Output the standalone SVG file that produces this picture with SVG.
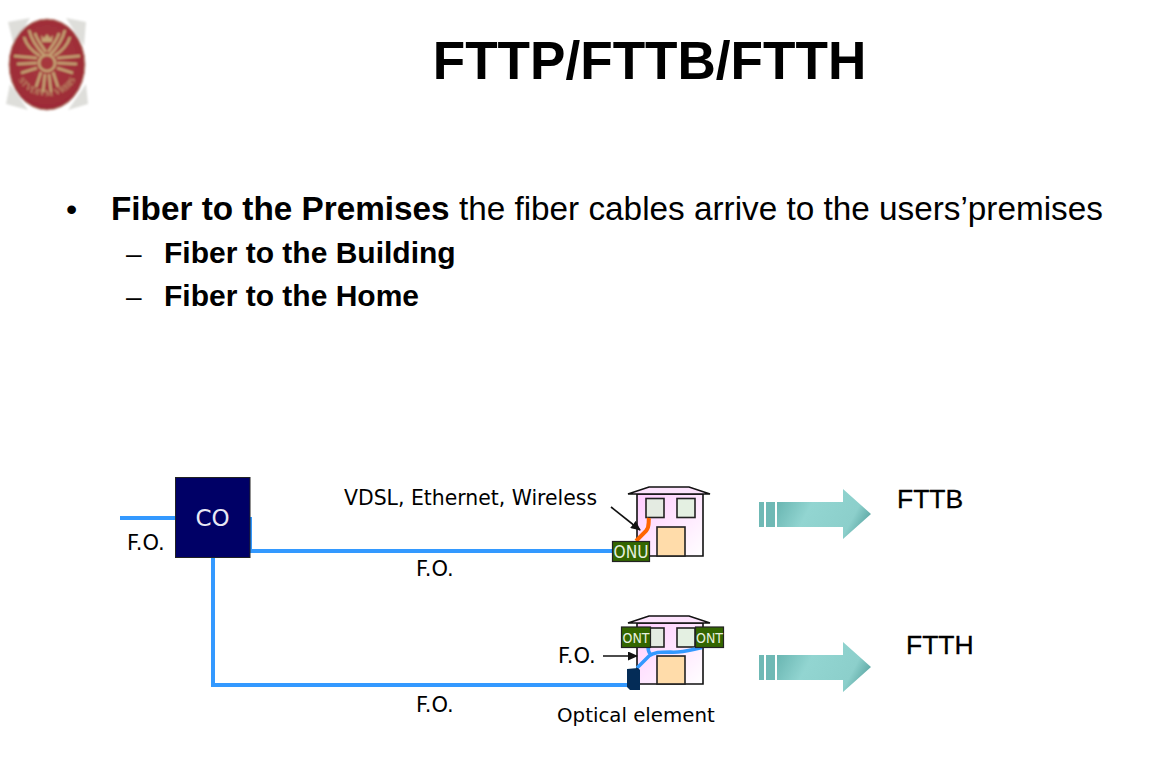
<svg xmlns="http://www.w3.org/2000/svg" width="1162" height="761" viewBox="0 0 1162 761">
<style>
text{fill:#000}
.a{font-family:"Liberation Sans",Arial,sans-serif}
.v{font-family:"DejaVu Sans",Verdana,sans-serif}
.b{font-weight:bold}
.fo{fill:none;stroke:#3399ff;stroke-width:4}
.h{stroke:#111;stroke-width:1.6}
.win{fill:#e4ebe2;stroke:#222;stroke-width:1.6}
.door{fill:#ffdcaa;stroke:#222;stroke-width:1.6}
.box{fill:#336600;stroke:#222;stroke-width:1.2}
.bt{font-family:"DejaVu Sans",Verdana,sans-serif;fill:#e6efdf;text-anchor:middle}
.gold{fill:none;stroke:#c4a574;stroke-width:2.600}
</style>
<defs>
<linearGradient id="hg" x1="0" y1="0" x2="1" y2="1"><stop offset="0" stop-color="#ffccff"/><stop offset="1" stop-color="#ffffff"/></linearGradient>
<linearGradient id="ag" gradientUnits="userSpaceOnUse" x1="18" y1="-12" x2="112" y2="38"><stop offset="0" stop-color="#62b0ac"/><stop offset=".35" stop-color="#92d5d1"/><stop offset=".75" stop-color="#8ccfcb"/><stop offset="1" stop-color="#3f8f8c"/></linearGradient>
<radialGradient id="lg" cx=".5" cy=".45" r=".6"><stop offset="0" stop-color="#a83a3f"/><stop offset=".85" stop-color="#9e2c38"/><stop offset="1" stop-color="#8a2630"/></radialGradient>
<filter id="soft" x="-10%" y="-10%" width="120%" height="120%"><feGaussianBlur stdDeviation="1"/></filter>
<marker id="ah" markerWidth="10" markerHeight="9" refX="9" refY="4.500" orient="auto" markerUnits="userSpaceOnUse"><path d="M0 0L10 4.500L0 9z" fill="#111"/></marker>
<path id="arc" d="M16 72C22 104 72 104 78 72"/>
<g id="arrow"><rect x="0" y="0" width="5" height="25" fill="#6fb9b5"/><rect x="7" y="0" width="9" height="25" fill="#6fb9b5"/><path d="M18 0H84V-13L112 12L84 37V25H18z" fill="url(#ag)"/></g>
</defs>

<g id="logo" filter="url(#soft)">
<path d="M8 22L30 18L14 46zM86 22L66 18L84 46zM6 104L28 110L10 84zM88 104L68 110L86 84z" fill="#dededa"/>
<ellipse cx="47" cy="64.500" rx="38" ry="45.500" fill="url(#lg)" stroke="#b98a78" stroke-width="1"/>
<g class="gold">
<path d="M44 55C37 48 31 38 29 30"/><path d="M40 56C32 51 26 44 24 37"/><path d="M46 52C41 45 36 38 35 33"/><path d="M50 55C57 48 63 38 65 30"/><path d="M54 56C62 51 68 44 70 37"/><path d="M48 52C53 45 58 38 59 33"/>
<path d="M37 58L14 56"/><path d="M37 63L17 64"/><path d="M37 68L21 73"/><path d="M57 58L80 56"/><path d="M57 63L77 64"/><path d="M57 68L73 73"/>
<path d="M41 72L36 87"/><path d="M45 74L43 92"/><path d="M49 74L51 92"/><path d="M53 72L58 87"/>
<circle cx="47" cy="63" r="8"/>
</g>
<path d="M41 35L44 38L47 34L50 38L53 35L52 42H42z" fill="#c4a574"/>
<text font-family="Liberation Serif,serif" font-size="9" style="fill:#c4a574"><textPath href="#arc" startOffset="50%" text-anchor="middle">STVDIVM VRBIS</textPath></text>
</g>

<g id="title"><text class="a b" x="649.500" y="79" font-size="53.100" text-anchor="middle">FTTP/FTTB/FTTH</text></g>
<g id="bullets" class="a">
<text x="66" y="220" font-size="32">•</text>
<text x="111" y="220" font-size="33.300"><tspan class="b">Fiber to the Premises</tspan> the fiber cables arrive to the users’premises</text>
<text x="126" y="263" font-size="28">–</text>
<text class="b" x="164" y="263" font-size="30">Fiber to the Building</text>
<text x="126" y="306" font-size="28">–</text>
<text class="b" x="164" y="306" font-size="30">Fiber to the Home</text>
</g>

<g id="house-b">
<path class="h" fill="url(#hg)" d="M637 494H703V556H637z"/>
<path d="M628 494L649 487H689L710 494z" fill="#fde3fd" stroke="#111" stroke-width="1.6"/>
<rect class="win" x="646" y="498.500" width="18" height="19"/>
<rect class="win" x="677" y="498.500" width="18" height="19" style="fill:#e4f0e2"/>
<rect class="door" x="657" y="527" width="28" height="29"/>
</g>
<g id="house-h">
<path class="h" fill="url(#hg)" d="M637 623H703V684H637z"/>
<path d="M628 623L649 616H689L710 623z" fill="#fde3fd" stroke="#111" stroke-width="1.6"/>
<rect class="win" x="646" y="628" width="18" height="19"/>
<rect class="win" x="677" y="628" width="18" height="19" style="fill:#e4f0e2"/>
<rect class="door" x="657" y="656" width="28" height="28"/>
</g>

<g id="connectors">
<path class="fo" d="M120 518H176"/>
<path class="fo" d="M250 517V551H614"/>
<path class="fo" d="M213 556V685H628"/>
<path fill="none" stroke="#ff6600" stroke-width="4" d="M636 541L646 531C650 526 648 523 649 518"/>
<path fill="none" stroke="#3399ff" stroke-width="3.500" d="M637 668L649 656C654 652 660 652 670 652C682 653 690 650 702 647.500"/>
<path fill="none" stroke="#3399ff" stroke-width="3.500" d="M651 655C649 653 648 651 648 647"/>
<path fill="none" stroke="#111" stroke-width="1.600" marker-end="url(#ah)" d="M611 507L640 530"/>
<path fill="none" stroke="#111" stroke-width="1.600" marker-end="url(#ah)" d="M603 656H637"/>
</g>

<g id="co"><rect x="175.500" y="477.500" width="74.500" height="80" fill="#000066" stroke="#222" stroke-width="1"/><text class="v" x="212.500" y="526" font-size="23" text-anchor="middle" style="fill:#e8e8f4">CO</text></g>
<g id="onu"><rect class="box" x="612.500" y="541.500" width="37" height="20"/><text class="bt" x="631" y="558" font-size="17" textLength="35" lengthAdjust="spacingAndGlyphs">ONU</text></g>
<g id="ont1"><rect class="box" x="621.500" y="627" width="29" height="20.500"/><text class="bt" x="636" y="642.500" font-size="14" textLength="27" lengthAdjust="spacingAndGlyphs">ONT</text></g>
<g id="ont2"><rect class="box" x="695.500" y="627" width="28" height="20.500"/><text class="bt" x="709.500" y="642.500" font-size="14" textLength="27" lengthAdjust="spacingAndGlyphs">ONT</text></g>
<g id="optical"><path d="M627 669L638 668L640 670V690H630L627 687z" fill="#042c57"/></g>

<g id="labels">
<text class="v" x="127" y="550" font-size="21">F.O.</text>
<text class="v" x="416" y="576" font-size="21">F.O.</text>
<text class="v" x="558" y="662.500" font-size="21">F.O.</text>
<text class="v" x="416" y="712" font-size="21">F.O.</text>
<text class="v" x="344" y="505" font-size="20.400">VDSL, Ethernet, Wireless</text>
<text class="v" x="557" y="722" font-size="19.800">Optical element</text>
</g>

<g id="fttb"><use href="#arrow" x="759" y="502"/><text class="a" x="897" y="508" font-size="26.500" stroke="#000" stroke-width=".3">FTTB</text></g>
<g id="ftth"><use href="#arrow" x="759" y="655"/><text class="a" x="906" y="654" font-size="26.500" stroke="#000" stroke-width=".3">FTTH</text></g>
</svg>
